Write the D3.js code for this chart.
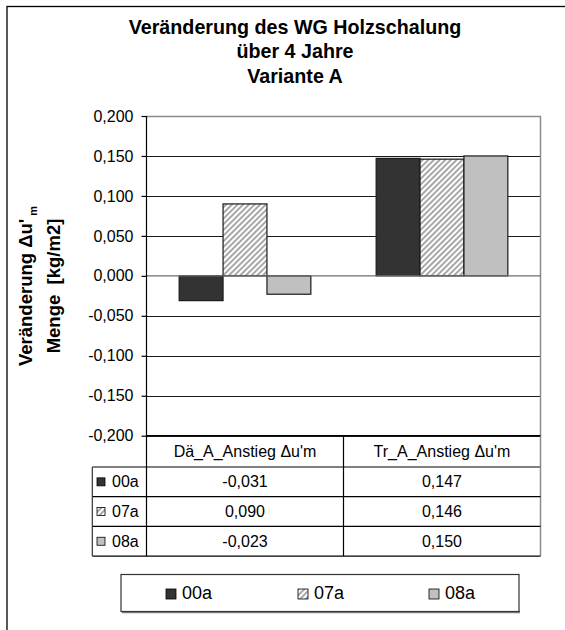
<!DOCTYPE html>
<html>
<head>
<meta charset="utf-8">
<script src="https://cdn.jsdelivr.net/npm/d3@7/dist/d3.min.js"></script>
<style>
  html, body { margin: 0; padding: 0; background: #fff; }
  svg { display: block; font-family: "Liberation Sans", Arial, sans-serif; }
  text { white-space: pre; }
</style>
</head>
<body>
<svg id="chart" width="565" height="630"></svg>
<script>
// Chart data
const categories = ["Dä_A_Anstieg Δu'm", "Tr_A_Anstieg Δu'm"];
const seriesNames = ["00a", "07a", "08a"];
const values00a = [-0.031, 0.147];
const values07a = [0.090, 0.146];
const values08a = [-0.023, 0.150];
const yTicks = [-0.2, -0.15, -0.1, -0.05, 0, 0.05, 0.1, 0.15, 0.2];
const titleLines = ["Veränderung des WG Holzschalung", "über 4 Jahre", "Variante A"];

const seriesValues = [values00a, values07a, values08a];

const svg = d3.select("#chart");

// Layout
const plot = { left: 146.5, right: 540.5, top: 116, bottom: 435.7 };
const rowTop = 467, rowH = 29.7, headerLeft = 92.3;

// Number format with decimal comma
const loc = d3.formatLocale({ decimal: ",", thousands: ".", grouping: [3], currency: ["", " €"], minus: "-" });
const fmt = loc.format(".3f");

// Fills
const defs = svg.append("defs");
const hatch = defs.append("pattern")
  .attr("id", "hatch")
  .attr("patternUnits", "userSpaceOnUse")
  .attr("width", 4).attr("height", 4)
  .attr("patternTransform", "rotate(45)");
hatch.append("rect").attr("width", 4).attr("height", 4).attr("fill", "#ffffff");
hatch.append("rect").attr("width", 2).attr("height", 4).attr("fill", "#a8a8a8");
const fills = ["#333333", "url(#hatch)", "#c0c0c0"];

// Outer frame
svg.append("rect")
  .attr("x", 7).attr("y", 6.5).attr("width", 575).attr("height", 640)
  .attr("fill", "none").attr("stroke", "#000").attr("stroke-width", 1.3);

// Title
const title = svg.append("text")
  .attr("text-anchor", "middle")
  .attr("font-weight", "bold")
  .attr("font-size", 19.7)
  .attr("fill", "#000");
titleLines.forEach((t, i) => {
  title.append("tspan").attr("x", 295).attr("y", 33.5 + i * 24.8).text(t);
});

// Scales
const y = d3.scaleLinear().domain([-0.2, 0.2]).range([plot.bottom, plot.top]);
const x0 = d3.scaleBand().domain(categories).range([plot.left, plot.right]).padding(0);
const x1 = d3.scaleBand().domain(seriesNames).range([0, x0.bandwidth()]).paddingInner(0).paddingOuter(0.744);

// Gridlines
svg.append("g")
  .selectAll("line")
  .data(yTicks.filter(v => v !== 0 && v !== 0.2))
  .join("line")
  .attr("x1", plot.left).attr("x2", plot.right)
  .attr("y1", d => Math.round(y(d)) + 0.5).attr("y2", d => Math.round(y(d)) + 0.5)
  .attr("stroke", "#1a1a1a").attr("stroke-width", 1);

// Plot border (top and right, grey)
svg.append("path")
  .attr("d", `M${plot.left},${plot.top + 0.5}H${plot.right}V${rowTop + 3 * rowH}`)
  .attr("fill", "none").attr("stroke", "#8c8c8c").attr("stroke-width", 1.5);

// Bars
const groups = svg.append("g")
  .selectAll("g")
  .data(categories)
  .join("g")
  .attr("transform", d => `translate(${x0(d)},0)`);

groups.selectAll("rect")
  .data((c, ci) => seriesNames.map((s, si) => ({ s, si, v: seriesValues[si][ci] })))
  .join("rect")
  .attr("x", d => x1(d.s))
  .attr("width", x1.bandwidth())
  .attr("y", d => y(Math.max(0, d.v)))
  .attr("height", d => Math.abs(y(d.v) - y(0)))
  .attr("fill", d => fills[d.si])
  .attr("stroke", "#1a1a1a")
  .attr("stroke-width", 1.2);

// Category axis line at zero
svg.append("line")
  .attr("x1", plot.left).attr("x2", plot.right)
  .attr("y1", y(0)).attr("y2", y(0))
  .attr("stroke", "#6e6e6e").attr("stroke-width", 1.2);

// Value axis
const yAxis = svg.append("g")
  .attr("transform", `translate(${plot.left},0)`)
  .call(d3.axisLeft(y).tickValues(yTicks).tickFormat(fmt).tickSizeInner(5).tickSizeOuter(0).tickPadding(8));
yAxis.select(".domain").remove();
yAxis.selectAll(".tick line").attr("stroke", "#000").attr("stroke-width", 1.2);
yAxis.selectAll(".tick text")
  .attr("font-size", 16)
  .attr("font-family", "'Liberation Sans', Arial, sans-serif")
  .attr("fill", "#000");

// Axis title
const yTitle = svg.append("g").attr("transform", "translate(0,286) rotate(-90)");
const t1 = yTitle.append("text")
  .attr("x", 0).attr("y", 31.5)
  .attr("text-anchor", "middle")
  .attr("font-weight", "bold").attr("font-size", 18.5);
t1.append("tspan").text("Veränderung Δu'");
t1.append("tspan").attr("font-size", 11).attr("dy", 5).text(" m");
yTitle.append("text")
  .attr("x", 0).attr("y", 60)
  .attr("text-anchor", "middle")
  .attr("font-weight", "bold").attr("font-size", 18.5)
  .text("Menge  [kg/m2]");

// Data table
const table = svg.append("g");
const tableBottom = rowTop + seriesNames.length * rowH;

// Header row (categories)
table.selectAll("text.cat")
  .data(categories)
  .join("text")
  .attr("class", "cat")
  .attr("x", d => x0(d) + x0.bandwidth() / 2)
  .attr("y", (plot.bottom + rowTop) / 2 + 5.5)
  .attr("text-anchor", "middle")
  .attr("font-size", 16)
  .text(d => d);

// Horizontal table lines
table.append("line")
  .attr("x1", plot.left).attr("x2", plot.right)
  .attr("y1", plot.bottom).attr("y2", plot.bottom)
  .attr("stroke", "#000").attr("stroke-width", 1.2);
table.append("line")
  .attr("x1", headerLeft).attr("x2", plot.right)
  .attr("y1", rowTop).attr("y2", rowTop)
  .attr("stroke", "#808080").attr("stroke-width", 2);
table.selectAll("line.row")
  .data(seriesNames.map((s, i) => rowTop + (i + 1) * rowH))
  .join("line")
  .attr("class", "row")
  .attr("x1", headerLeft).attr("x2", plot.right)
  .attr("y1", d => d).attr("y2", d => d)
  .attr("stroke", "#000").attr("stroke-width", 1.2);

// Vertical table lines
table.append("line")
  .attr("x1", headerLeft).attr("x2", headerLeft)
  .attr("y1", rowTop).attr("y2", tableBottom)
  .attr("stroke", "#333").attr("stroke-width", 1.2);
table.append("line")
  .attr("x1", plot.left).attr("x2", plot.left)
  .attr("y1", plot.top).attr("y2", tableBottom)
  .attr("stroke", "#000").attr("stroke-width", 1.2);
table.append("line")
  .attr("x1", x0(categories[1])).attr("x2", x0(categories[1]))
  .attr("y1", plot.bottom).attr("y2", tableBottom)
  .attr("stroke", "#000").attr("stroke-width", 1.2);

// Rows: key + name + values
const rows = table.selectAll("g.r")
  .data(seriesNames)
  .join("g")
  .attr("class", "r")
  .attr("transform", (d, i) => `translate(0,${rowTop + i * rowH + rowH / 2})`);
rows.append("rect")
  .attr("x", 97).attr("y", -4).attr("width", 8).attr("height", 8)
  .attr("fill", (d, i) => fills[i])
  .attr("stroke", "#000").attr("stroke-width", 0.8);
rows.append("text")
  .attr("x", 112).attr("y", 5.5)
  .attr("font-size", 16)
  .text(d => d);
rows.selectAll("text.v")
  .data((s, si) => categories.map((c, ci) => ({ c, v: seriesValues[si][ci] })))
  .join("text")
  .attr("class", "v")
  .attr("x", d => x0(d.c) + x0.bandwidth() / 2)
  .attr("y", 5.5)
  .attr("text-anchor", "middle")
  .attr("font-size", 16)
  .text(d => fmt(d.v));

// Legend
const legend = svg.append("g");
legend.append("line")
  .attr("x1", 122).attr("x2", 520).attr("y1", 612).attr("y2", 612)
  .attr("stroke", "#808080").attr("stroke-width", 2.5);
legend.append("rect")
  .attr("x", 121).attr("y", 574.5).attr("width", 398).attr("height", 37)
  .attr("fill", "#fff").attr("stroke", "#333").attr("stroke-width", 1.2);
const legendX = [166, 298, 429];
const items = legend.selectAll("g.item")
  .data(seriesNames)
  .join("g")
  .attr("class", "item")
  .attr("transform", (d, i) => `translate(${legendX[i]},594)`);
items.append("rect")
  .attr("x", 0).attr("y", -5).attr("width", 10).attr("height", 10)
  .attr("fill", (d, i) => fills[i])
  .attr("stroke", "#000").attr("stroke-width", 0.8);
items.append("text")
  .attr("x", 16).attr("y", 4.5)
  .attr("font-size", 18)
  .text(d => d);
</script>
</body>
</html>
